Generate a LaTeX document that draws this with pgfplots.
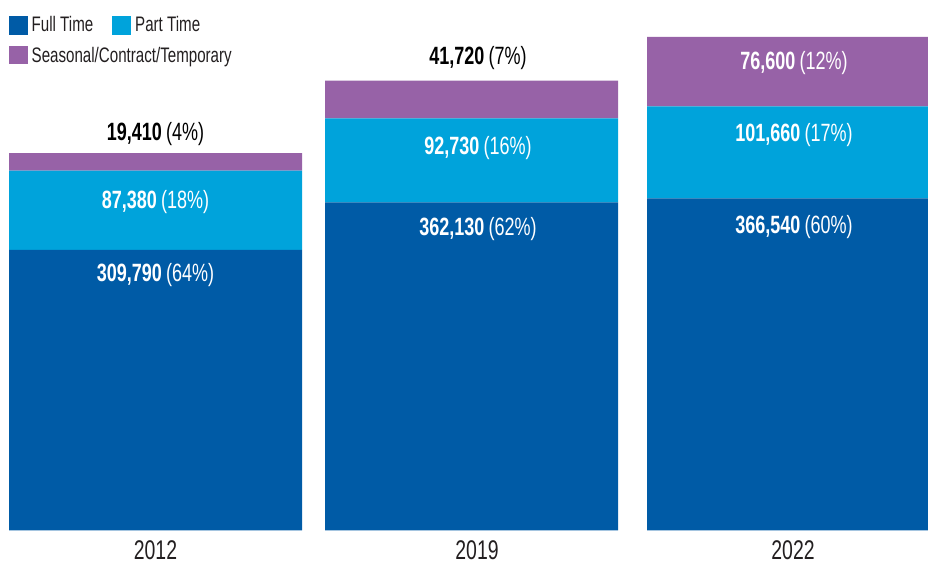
\documentclass[border=0pt]{standalone}
\usepackage{fontspec}
\setmainfont{Liberation Sans}[FakeStretch=0.72]
\usepackage{pgfplots}
\pgfplotsset{compat=1.18}
\definecolor{cFull}{HTML}{005BA6}
\definecolor{cPart}{HTML}{00A3DB}
\definecolor{cSeas}{HTML}{9762A7}
\definecolor{cText}{HTML}{231F20}
\newcommand{\lab}[2]{\textbf{#1}\,#2}
\begin{document}
\begin{tikzpicture}[x=1pt,y=1pt]
\useasboundingbox (0,0) rectangle (928,562);
\begin{axis}[
  at={(0,35)}, anchor=south west,
  scale only axis, width=928pt, height=527pt,
  xmin=0, xmax=928, ymin=0, ymax=582000,
  ybar stacked, bar width=293,
  axis line style={draw=none}, major tick length=0pt,
  ytick=\empty,
  xtick={155.5,477,793}, xticklabels={2012,2019,2022},
  xticklabel style={font=\fontsize{27pt}{32pt}\selectfont, text=cText, anchor=north, inner sep=0pt, yshift=-10pt},
]
\addplot[fill=cFull, draw=none] coordinates {(155.5,309790) (471.5,362130) (793.5,366540)};
\addplot[fill=cPart, draw=none] coordinates {(155.5,87380) (471.5,92730) (793.5,101660)};
\addplot[fill=cSeas, draw=none] coordinates {(155.5,19410) (471.5,41720) (793.5,76600)};
% tops of the segments, for the value labels
\coordinate (a1) at (axis cs:155.5,309790);
\coordinate (a2) at (axis cs:155.5,397170);
\coordinate (a3) at (axis cs:155.5,416580);
\coordinate (b1) at (axis cs:478,362130);
\coordinate (b2) at (axis cs:478,454860);
\coordinate (b3) at (axis cs:478,496580);
\coordinate (c1) at (axis cs:794,366540);
\coordinate (c2) at (axis cs:794,468200);
\coordinate (c3) at (axis cs:794,544800);
\end{axis}
\begin{scope}[every node/.style={font=\fontsize{25pt}{30pt}\selectfont, anchor=base, inner sep=0pt}]
\node[text=white, yshift=-32pt] at (a1) {\lab{309,790}{(64\%)}};
\node[text=white, yshift=-38pt] at (a2) {\lab{87,380}{(18\%)}};
\node[text=black, yshift=13pt] at (a3) {\lab{19,410}{(4\%)}};
\node[text=white, yshift=-33pt] at (b1) {\lab{362,130}{(62\%)}};
\node[text=white, yshift=-36pt] at (b2) {\lab{92,730}{(16\%)}};
\node[text=black, yshift=16pt] at (b3) {\lab{41,720}{(7\%)}};
\node[text=white, yshift=-35pt] at (c1) {\lab{366,540}{(60\%)}};
\node[text=white, yshift=-35pt] at (c2) {\lab{101,660}{(17\%)}};
\node[text=white, yshift=-33pt] at (c3) {\lab{76,600}{(12\%)}};
\end{scope}
% legend
\begin{scope}[every node/.style={font=\fontsize{21pt}{25pt}\selectfont, text=cText, anchor=base west, inner sep=0pt}]
\fill[cFull] (9,527) rectangle (28,546);
\node at (31.5,530) {Full Time};
\fill[cPart] (112,527) rectangle (131,546);
\node at (135,530) {Part Time};
\fill[cSeas] (9,497.7) rectangle (28,516.3);
\node at (31.5,499.7) {Seasonal/Contract/Temporary};
\end{scope}
\end{tikzpicture}
\end{document}
